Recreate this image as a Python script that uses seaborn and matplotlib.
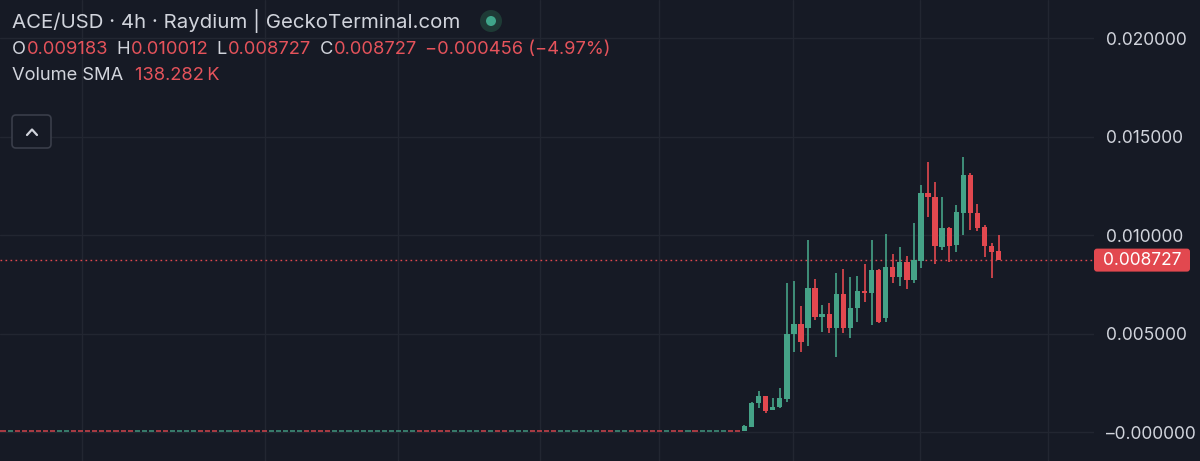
import numpy as np
import pandas as pd
import matplotlib.pyplot as plt
import matplotlib.transforms as mtransforms
from matplotlib.patches import Circle, FancyBboxPatch
from matplotlib.lines import Line2D
import seaborn as sns

#%% Data

# pre-launch candles sit at ~0, only their colour can be read (r = down, g = up)
flat_colors = "".join(["r", "g", "rrrrrr", "gg", "rrrrrrrrr", "ggg", "rr", "gggg", "rrr",
                       "gg", "rrrrr", "ggggg", "rrrr", "gggggggggggg", "rrrrr", "gggg",
                       "r", "g", "rr", "ggg", "rrrr", "gggggg", "rr", "gg", "rrrrr", "g",
                       "rr", "g", "r", "gggg", "rr"])
flat_low = 0.00001
flat_high = 0.00002

# traded candles after launch
opens = [0.00005, 0.00025, 0.00147, 0.00183, 0.00112, 0.00127, 0.00168, 0.00497,
         0.00548, 0.00528, 0.00731, 0.00584, 0.00599, 0.00528, 0.00700, 0.00528,
         0.00629, 0.00716, 0.00706, 0.00822, 0.00579, 0.00838, 0.00787, 0.00863,
         0.00772, 0.00868, 0.01213, 0.01193, 0.00939, 0.01036, 0.00949, 0.01112,
         0.01305, 0.01112, 0.01041, 0.00944, 0.009183]
highs = [0.00035, 0.00150, 0.00208, 0.00183, 0.00173, 0.00223, 0.00756, 0.00766,
         0.00640, 0.00975, 0.00777, 0.00645, 0.00655, 0.00807, 0.00827, 0.00787,
         0.00792, 0.00853, 0.00975, 0.00830, 0.01005, 0.00904, 0.00939, 0.00893,
         0.01061, 0.01254, 0.01371, 0.01269, 0.01193, 0.01040, 0.01152, 0.01396,
         0.01315, 0.01157, 0.01050, 0.00960, 0.010012]
lows = [0.00005, 0.00025, 0.00122, 0.00096, 0.00112, 0.00122, 0.00152, 0.00406,
        0.00406, 0.00437, 0.00569, 0.00508, 0.00503, 0.00381, 0.00503, 0.00477,
        0.00558, 0.00660, 0.00543, 0.00553, 0.00558, 0.00756, 0.00741, 0.00726,
        0.00756, 0.00832, 0.01091, 0.00853, 0.00924, 0.00863, 0.00914, 0.01000,
        0.01025, 0.01020, 0.00888, 0.00782, 0.008727]
closes = [0.00030, 0.00147, 0.00183, 0.00107, 0.00127, 0.00173, 0.00497, 0.00548,
          0.00457, 0.00731, 0.00584, 0.00599, 0.00528, 0.00700, 0.00528, 0.00629,
          0.00716, 0.00706, 0.00822, 0.00558, 0.00838, 0.00787, 0.00863, 0.00772,
          0.00873, 0.01213, 0.01193, 0.00944, 0.01036, 0.00944, 0.01117, 0.01305,
          0.01112, 0.01036, 0.00944, 0.00914, 0.008727]

last_price = 0.008727
price_ticks = [0.0, 0.005, 0.010, 0.015, 0.020]
price_labels = ["\u20130.000000", "0.005000", "0.010000", "0.015000", "0.020000"]
time_grid = [11.2, 37.1, 55.9, 76.1, 92.9, 111.9, 129.9, 148.0]

title = "ACE/USD \u00b7 4h \u00b7 Raydium | GeckoTerminal.com"
ohlc_line = [("O", "k"), ("0.009183", "v"), ("H", "k"), ("0.010012", "v"),
             ("L", "k"), ("0.008727", "v"), ("C", "k"), ("0.008727", "v"),
             ("\u22120.000456 (\u22124.97%)", "v")]
vol_label = "Volume SMA"
vol_value = "138.282\u2009K"

#%% Build the frame

flat = pd.DataFrame({
    "open": [flat_low if c == "g" else flat_high for c in flat_colors],
    "close": [flat_high if c == "g" else flat_low for c in flat_colors],
})
flat["high"] = flat_high
flat["low"] = flat_low
flat["flat"] = True

live = pd.DataFrame({"open": opens, "high": highs, "low": lows, "close": closes})
live["flat"] = False

candles = pd.concat([flat, live], ignore_index=True)
candles["x"] = np.arange(len(candles))
candles["up"] = candles["close"] >= candles["open"]

#%% Style

bg = "#161a25"
grid_c = "#222631"
text_c = "#d1d4dc"
green = "#45a287"
red = "#e2484f"
val_red = "#e5535b"

sns.set_theme(style="dark", rc={"axes.facecolor": bg, "figure.facecolor": bg,
                                "savefig.facecolor": bg, "grid.color": grid_c})
plt.rcParams["font.family"] = ["Inter", "DejaVu Sans"]

fig = plt.figure(figsize=(12, 4.61), dpi=100)
ax = fig.add_axes([0, 0, 1094 / 1200, 1])

ax.set_xlim(-0.425, 154.5)
ax.set_ylim(-0.00147, 0.02193)

ax.set_xticks(time_grid)
ax.set_xticklabels([])
ax.yaxis.tick_right()
ax.set_yticks(price_ticks)
ax.set_yticklabels(price_labels)
ax.tick_params(axis="both", length=0)
ax.tick_params(axis="y", pad=8.5, labelsize=12.5, labelcolor=text_c)
ax.grid(True, color=grid_c, lw=1)
sns.despine(ax=ax, left=True, bottom=True, right=True, top=True)

#%% Candles

min_body = 1.6 / 19700  # ~1.6 px so that flat candles stay visible
colors = np.where(candles["up"], green, red)
bottoms = candles[["open", "close"]].min(axis=1)
heights = (candles["close"] - candles["open"]).abs().clip(lower=min_body)

is_flat = candles["flat"].values
ax.bar(candles["x"][is_flat], heights[is_flat], bottom=bottoms[is_flat], width=0.72,
       color=colors[is_flat], linewidth=0, alpha=0.7, zorder=3)
ax.vlines(candles["x"][~is_flat], candles["low"][~is_flat], candles["high"][~is_flat],
          colors=colors[~is_flat], lw=1.2, zorder=3)
ax.bar(candles["x"][~is_flat], heights[~is_flat], bottom=bottoms[~is_flat], width=0.76,
       color=colors[~is_flat], linewidth=0, zorder=4)

# last price line and tag
ax.axhline(last_price, color=red, lw=1, ls=(0, (1.2, 2.4)), zorder=2)
fig.canvas.draw()
ypix = ax.transData.transform((0, last_price))[1]
tag = FancyBboxPatch((1094, ypix - 11.5), 96, 23, boxstyle="round,pad=0,rounding_size=3",
                     transform=mtransforms.IdentityTransform(), fc=red, ec="none",
                     zorder=5)
fig.add_artist(tag)
fig.text(1142 / 1200, ypix / 461, "0.008727", color="white", fontsize=12.5,
         ha="center", va="center", zorder=6)

#%% Header texts

H = 461
fig.text(12 / 1200, 1 - 21 / H, title, color=text_c, fontsize=14.7, va="center")

halo = Circle((4.91, (H - 21) / 100), 0.11, transform=fig.dpi_scale_trans,
              fc="#1e3b36", ec="none")
dot = Circle((4.91, (H - 21) / 100), 0.05, transform=fig.dpi_scale_trans,
             fc="#3fa68a", ec="none")
fig.add_artist(halo)
fig.add_artist(dot)

renderer = fig.canvas.get_renderer()
x = 12
gap = {"k": 1, "v": 8}
for txt, kind in ohlc_line:
    t = fig.text(x / 1200, 1 - 49 / H, txt, color=text_c if kind == "k" else val_red,
                 fontsize=13.2, va="center")
    x = t.get_window_extent(renderer).x1 + gap[kind]

t = fig.text(12 / 1200, 1 - 76 / H, vol_label, color=text_c, fontsize=13.2, va="center")
x = t.get_window_extent(renderer).x1 + 12
fig.text(x / 1200, 1 - 76 / H, vol_value, color=val_red, fontsize=13.2, va="center")

# collapse button
btn = FancyBboxPatch((0.12, (H - 148) / 100), 0.39, 0.33,
                     boxstyle="round,pad=0,rounding_size=0.04",
                     transform=fig.dpi_scale_trans, fc=bg, ec="#3a3e4a", lw=1.2)
fig.add_artist(btn)
fig.add_artist(Line2D([0.27, 0.32, 0.37], [(H - 135) / 100, (H - 129.5) / 100, (H - 135) / 100],
                      transform=fig.dpi_scale_trans, color=text_c, lw=1.6))

fig.savefig("out.png", dpi=100)
